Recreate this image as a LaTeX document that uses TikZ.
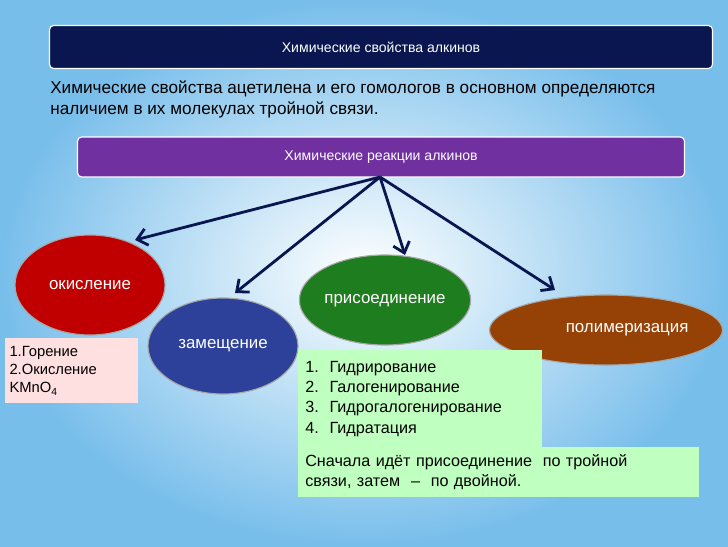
\documentclass[tikz,border=0pt]{standalone}
\usepackage{fontspec}
\setmainfont{Liberation Sans}
\usetikzlibrary{shapes.geometric, arrows.meta}
\definecolor{navy}{RGB}{10,22,80}
\definecolor{violet}{RGB}{112,48,160}
\definecolor{skyblue}{RGB}{120,190,235}
\definecolor{oxred}{RGB}{192,0,0}
\definecolor{subblue}{RGB}{45,65,155}
\definecolor{addgreen}{RGB}{30,125,30}
\definecolor{polbrown}{RGB}{150,65,5}
\tikzstyle{bar} = [rectangle, rounded corners=3pt, draw=white, thick, text=white, font=\fontsize{10}{12}\selectfont]
\tikzstyle{reaction} = [ellipse, draw=gray!70, thick, text=white, inner sep=0pt, font=\fontsize{12}{14}\selectfont]
\tikzstyle{note} = [rectangle, align=left, inner sep=3pt, font=\fontsize{11.5}{14.5}\selectfont]
\tikzstyle{arrow} = [line width=2pt, draw=navy, -{Straight Barb[length=7pt,width=12pt]}]

\begin{document}
\begin{tikzpicture}[x=0.025cm, y=-0.025cm]
	\useasboundingbox (0,0) rectangle (728,546);
	\shade[inner color=white, outer color=skyblue] (0,0) rectangle (728,546);
	% headers
	\node (title) [bar, fill=navy, minimum width=663*0.025cm, minimum height=43*0.025cm] at (381,47) {Химические свойства алкинов};
	\node (intro) [note, anchor=north west, inner sep=0pt, font=\fontsize{12.2}{15.5}\selectfont] at (50,80)
		{Химические свойства ацетилена и его гомологов в основном определяются\\ наличием в их молекулах тройной связи.};
	\node (reactions) [bar, fill=violet, minimum width=607*0.025cm, minimum height=40*0.025cm] at (381,157) {Химические реакции алкинов};
	\coordinate (hub) at (380,177);
	% reactions
	\node (oxid) [reaction, fill=oxred, minimum width=150*0.025cm, minimum height=100*0.025cm] at (90,285) {окисление};
	\node (subst) [reaction, fill=subblue, minimum width=150*0.025cm, minimum height=96*0.025cm] at (223,346) {замещение};
	\node (addit) [reaction, fill=addgreen, minimum width=170*0.025cm, minimum height=90*0.025cm] at (385,300) {\raisebox{-8pt}{присоединение}};
	\node (polym) [reaction, fill=polbrown, minimum width=188*0.025cm, minimum height=70*0.025cm] at (606,330) {\hspace{30pt}полимеризация};
	% notes
	\node (oxidnote) [note, fill=red!12, anchor=north west, text width=124*0.025cm, minimum height=65*0.025cm, font=\fontsize{10.5}{13}\selectfont] at (5,338)
		{1.Горение\\2.Окисление\\KMnO\textsubscript{4}};
	\node (additlist) [note, fill=green!25, anchor=north west, text width=230*0.025cm, minimum height=97*0.025cm, inner xsep=5pt] at (298,350)
		{1.\ \ Гидрирование\\2.\ \ Галогенирование\\3.\ \ Гидрогалогенирование\\4.\ \ Гидратация};
	\node (additnote) [note, fill=green!25, anchor=north west, text width=387*0.025cm, minimum height=50*0.025cm, inner xsep=5pt] at (298,447)
		{Сначала идёт присоединение \ по тройной\\связи, затем \ – \ по двойной.};

	\draw [arrow] (hub) -- (135,240);
	\draw [arrow] (hub) -- (235,293);
	\draw [arrow] (hub) -- (405,255);
	\draw [arrow] (hub) -- (555,290);
\end{tikzpicture}
\end{document}
